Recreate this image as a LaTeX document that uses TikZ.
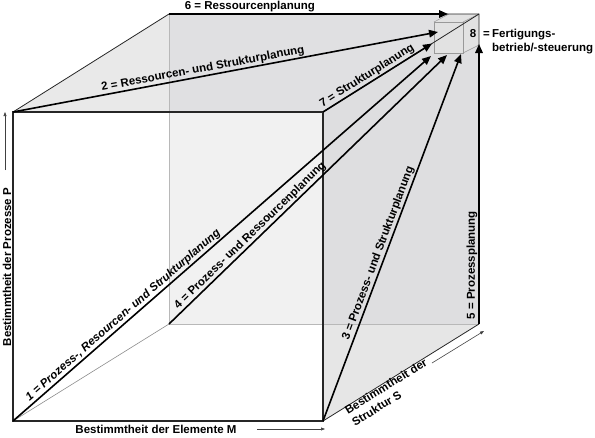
\documentclass[tikz,border=0pt]{standalone}
\usepackage{fontspec}
\setmainfont{Liberation Sans}
\usetikzlibrary{arrows.meta}
\definecolor{topc}{HTML}{E9E9E9}
\definecolor{topback}{HTML}{E0E0E2}
\definecolor{backc}{HTML}{F1F1F1}
\definecolor{rightback}{HTML}{DEDEE0}
\definecolor{rightc}{HTML}{E6E6E6}
\definecolor{cubec}{HTML}{E2E2E2}
\begin{document}
\begin{tikzpicture}[x=1pt,y=-1pt,
  lbl/.style={font=\fontsize{11.5}{13.5}\selectfont\bfseries, inner sep=1pt},
  ilbl/.style={font=\fontsize{11.5}{13.5}\selectfont\bfseries\itshape, inner sep=1pt},
  bigarrow/.style={line width=1.6pt, -{Triangle[length=9pt,width=7.5pt]}},
  axisarrow/.style={line width=0.6pt, black!75, -{Triangle[length=4pt,width=3pt]}},
  frontedge/.style={line width=1.3pt, black!85},
  backedge/.style={line width=1pt, black!28},
  thinedge/.style={line width=0.8pt, black!85},
  cubeedge/.style={line width=0.5pt, black!40},
]
\useasboundingbox (0,0) rectangle (595,437);
% cube corners
\coordinate (FTL) at (13,112);
\coordinate (FTR) at (323,112);
\coordinate (FBL) at (13,421);
\coordinate (FBR) at (323,421);
\coordinate (BTL) at (169,14);
\coordinate (BTR) at (479,14);
\coordinate (BBL) at (169,324);
\coordinate (BBR) at (479,324);
\coordinate (BM) at (169,112);
\coordinate (RM) at (323,324);
% small cube
\coordinate (c1) at (434,22);
\coordinate (c2) at (463,22);
\coordinate (c3) at (463,53);
\coordinate (c4) at (434,53);
\coordinate (c5) at (449,14);
\coordinate (c7) at (479,45);
% arrow tips
\coordinate (t1) at (431,56);
\coordinate (t2) at (438,32);
\coordinate (t3) at (461,54);
\coordinate (t4) at (447,55);
\coordinate (t5) at (479,44);
\coordinate (t6) at (448,14);
\coordinate (t7) at (432,43.5);

% faces
\fill[topc] (FTL) -- (BTL) -- (BM) -- cycle;
\fill[topback] (BTL) -- (BTR) -- (FTR) -- (BM) -- cycle;
\fill[backc] (BM) -- (FTR) -- (RM) -- (BBL) -- cycle;
\fill[rightback] (FTR) -- (BTR) -- (BBR) -- (RM) -- cycle;
\fill[rightc] (RM) -- (BBR) -- (FBR) -- cycle;

% hidden edges
\draw[backedge] (BTL) -- (BBL) -- (BBR);
\draw[line width=0.6pt, black!45] (FBL) -- (BBL);

% small cube
\fill[cubec] (c1) -- (c5) -- (BTR) -- (c7) -- (c3) -- (c4) -- cycle;
\draw[cubeedge] (c1) -- (c5);
\draw[cubeedge] (c1) -- (c2) -- (c3) -- (c4) -- cycle;
\draw[cubeedge] (c2) -- (BTR);
\draw[cubeedge] (c3) -- (c7);

% visible edges
\draw[thinedge] (FTL) -- (BTL) -- (BTR) -- (BBR);
\draw[thinedge] (FTR) -- (BTR);
\draw[thinedge] (FBR) -- (BBR);
\draw[frontedge] (FTL) rectangle (FBR);

% arrows with labels
\draw[bigarrow] (BTL) -- node[lbl, sloped, above, pos=0.29] (l6) {6 = Ressourcenplanung} (t6);
\draw[bigarrow] (FTL) -- node[lbl, sloped, above, pos=0.45] (l2) {2 = Ressourcen- und Strukturplanung} (t2);
\draw[bigarrow] (FTR) -- node[lbl, sloped, above, pos=0.44] (l7) {7 = Strukturplanung} (t7);
\draw[bigarrow] (FBL) -- node[ilbl, sloped, above, pos=0.275] (l1) {1 = Prozess-, Resourcen- und Strukturplanung} (t1);
\draw[bigarrow] (BBL) -- node[lbl, sloped, above, pos=0.31] (l4) {4 = Prozess- und Ressourcenplanung} (t4);
\draw[bigarrow] (FBR) -- node[lbl, sloped, above, pos=0.45] (l3) {3 = Prozess- und Strukturplanung} (t3);
\draw[bigarrow] (BBR) -- node[lbl, sloped, above, pos=0.21] (l5) {5 = Prozessplanung} (t5);

% label 8
\node[lbl, anchor=base] (n8) at (473,37) {8};
\node[lbl, anchor=base west] (eq8) at (482,37) {=};
\node[lbl, anchor=base west] (f8a) at (491,37) {Fertigungs-};
\node[lbl, anchor=base west] (f8b) at (491,51) {betrieb/-steuerung};

% axes
\coordinate (pa) at (5,170);
\coordinate (pb) at (5,112);
\draw[axisarrow] (pa) -- (pb);
\node[lbl, rotate=90] (axP) at (7,267) {Bestimmtheit der Prozesse P};
\coordinate (ma) at (257,429);
\coordinate (mb) at (325,429);
\draw[axisarrow] (ma) -- (mb);
\node[lbl] (axM) at (156,429) {Bestimmtheit der Elemente M};
\coordinate (sa) at (432,363);
\coordinate (sb) at (484,331);
\draw[axisarrow] (sa) -- (sb);
\node[lbl, rotate=31.6, anchor=base west] (axS1) at (347,415) {Bestimmtheit der};
\node[lbl, rotate=31.6, anchor=base west] (axS2) at (354,427) {Struktur S};
\end{tikzpicture}
\end{document}
